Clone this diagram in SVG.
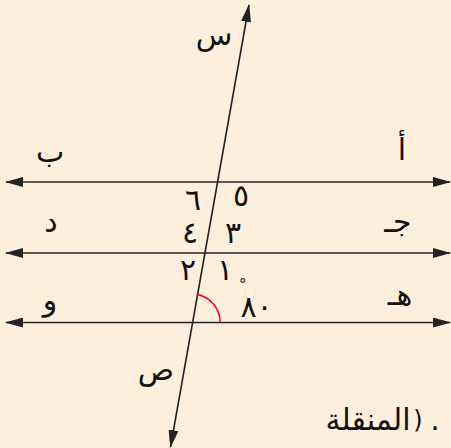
<svg xmlns="http://www.w3.org/2000/svg" width="451" height="448" viewBox="0 0 451 448">
<style>
.ln{stroke:#222;stroke-width:1.6;fill:none}
.t{font-family:"DejaVu Sans","Noto Sans",sans-serif;font-size:30px;fill:#111;text-anchor:middle}
.n{font-family:"DejaVu Sans","Noto Sans",sans-serif;font-size:30px;fill:#111;text-anchor:middle}
</style>
<defs>
<marker id="ah" viewBox="0 0 18 10" refX="17" refY="5" markerWidth="18" markerHeight="10" markerUnits="userSpaceOnUse" orient="auto">
<path d="M0,0 L18,5 L0,10 Z" fill="#222"/>
</marker>
<marker id="as" viewBox="0 0 18 10" refX="1" refY="5" markerWidth="18" markerHeight="10" markerUnits="userSpaceOnUse" orient="auto">
<path d="M18,0 L0,5 L18,10 Z" fill="#222"/>
</marker>
</defs>
<rect width="451" height="448" fill="#FEEFDC"/>
<g id="connectors">
<line class="ln" x1="6" y1="182" x2="450" y2="182" marker-start="url(#as)" marker-end="url(#ah)"/>
<line class="ln" x1="6" y1="253" x2="450" y2="253" marker-start="url(#as)" marker-end="url(#ah)"/>
<line class="ln" x1="6" y1="322.5" x2="450" y2="322.5" marker-start="url(#as)" marker-end="url(#ah)"/>
<line class="ln" x1="249" y1="5" x2="170.5" y2="447" marker-start="url(#as)" marker-end="url(#ah)"/>
<path d="M220.2,322.5 A28.5,28.5 0 0 0 196.7,294.4" stroke="#E8102A" stroke-width="1.6" fill="none"/>
</g>
<g id="labels">
<text class="t" x="214" y="45">س</text>
<text class="t" x="156" y="380">ص</text>
<text class="t" x="50" y="162">ب</text>
<text class="t" x="402" y="160">أ</text>
<text class="t" x="51" y="232">د</text>
<text class="t" x="398" y="232">جـ</text>
<text class="t" x="50" y="310">و</text>
<text class="t" x="400" y="305">هـ</text>
</g>
<g id="angles">
<text class="n" x="193" y="210">٦</text>
<text class="n" x="241" y="206">٥</text>
<text class="n" x="190" y="243">٤</text>
<text class="n" x="233" y="243">٣</text>
<text class="n" x="188" y="280">٢</text>
<text class="n" x="225" y="280">١</text>
<text class="n" x="239" y="290" style="font-size:15px;text-anchor:start">°<tspan dx="-6" dy="27" style="font-size:30px">٨٠</tspan></text>
</g>
<g id="note">
<text class="t" x="368" y="430">المنقلة</text>
<text class="t" x="418" y="428" style="font-size:24px;direction:ltr;unicode-bidi:bidi-override">)</text>
<text class="t" x="435" y="430">.</text>
</g>
</svg>
